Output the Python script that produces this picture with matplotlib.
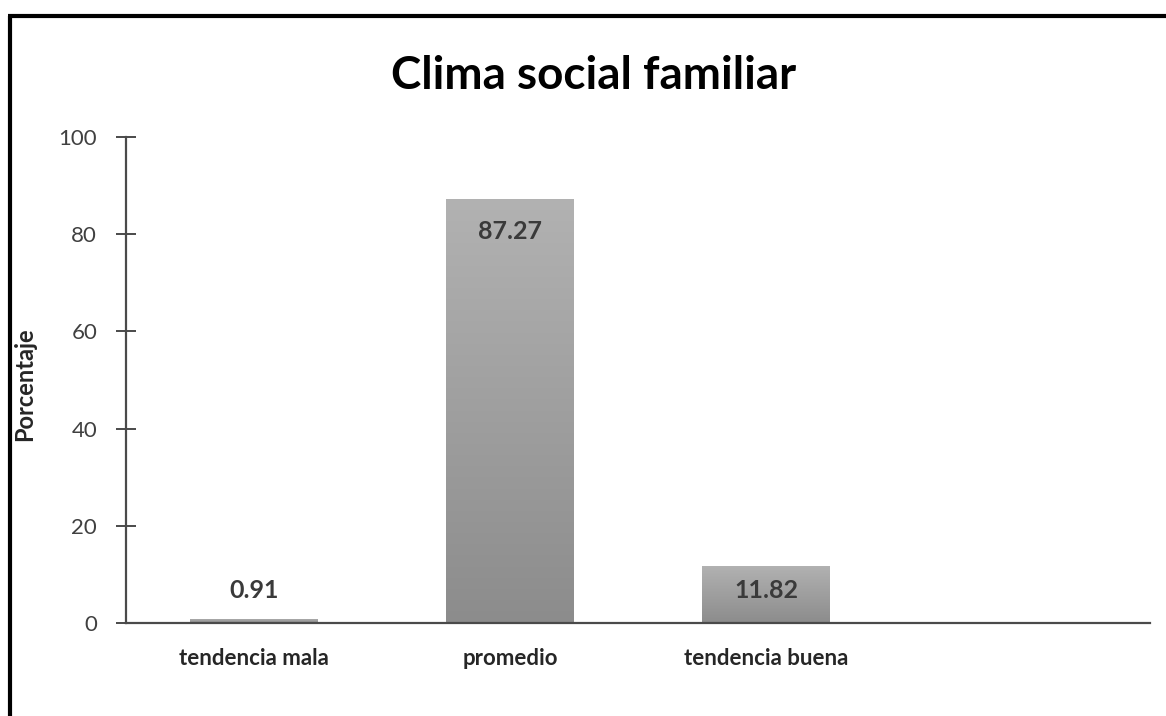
import numpy as np
import matplotlib
matplotlib.use("Agg")
import matplotlib.pyplot as plt
from matplotlib.lines import Line2D

# data
categories = ["tendencia mala", "promedio", "tendencia buena", ""]
values = [0.91, 87.27, 11.82]
value_labels = ["0.91", "87.27", "11.82"]
y_ticks = [0, 20, 40, 60, 80, 100]

plt.rcParams['font.family'] = ['Lato', 'DejaVu Sans']

W, H = 1166, 716
fig = plt.figure(figsize=(W / 100, H / 100), dpi=100)
ax = fig.add_axes([126 / W, 1 - 623 / H, (1150 - 126) / W, (623 - 137) / H])

x = np.arange(len(categories))
bars = ax.bar(x[:len(values)], values, width=0.5, color='none', zorder=2)

# vertical grey gradient inside each bar
grad = np.linspace(0, 1, 256).reshape(-1, 1)
cmap = matplotlib.colors.LinearSegmentedColormap.from_list('g', ['#8c8c8c', '#b2b2b2'])
for b in bars:
    x0, y0 = b.get_x(), b.get_y()
    im = ax.imshow(grad, cmap=cmap, origin='lower', aspect='auto',
                   extent=[x0, x0 + b.get_width(), y0, y0 + b.get_height()], zorder=2)
    im.set_clip_path(b)

# data labels: inside the top of tall bars, above the tiny one
for i, (v, lab) in enumerate(zip(values, value_labels)):
    if v > 5:
        off = -33 if v > 50 else -25
    else:
        off = 28
    ax.annotate(lab, (i, v), xytext=(0, off), textcoords='offset pixels',
                ha='center', va='center', fontsize=18, fontweight='bold', color='#3a3a3a')

ax.set_xlim(-0.5, len(categories) - 0.5)
ax.set_ylim(0, 100)
ax.set_yticks(y_ticks)
ax.set_xticks(x[:3])
ax.set_xticklabels(categories[:3], fontsize=16, fontweight='bold', color='#262626')

for s in ['top', 'right']:
    ax.spines[s].set_visible(False)
for s in ['left', 'bottom']:
    ax.spines[s].set_color('#4a4a4a')
    ax.spines[s].set_linewidth(1.6)

ax.tick_params(axis='y', direction='inout', length=14.4, width=1.4, color='#4a4a4a',
               pad=13.5, labelsize=16, labelcolor='#404040')
ax.tick_params(axis='x', length=0, pad=18)

ax.set_ylabel("Porcentaje", fontsize=17, fontweight='bold', color='#262626')
ax.yaxis.set_label_coords(36 / W, (716 - 384) / H, transform=fig.transFigure)

fig.text(594 / W, 1 - 76 / H, "Clima social familiar", ha='center', va='center',
         fontsize=33, fontweight='bold', color='black')

# black frame on top and left edges of the picture
fig.add_artist(Line2D([10 / W, 10 / W], [0, 1 - 16 / H], transform=fig.transFigure,
                      color='black', linewidth=3, solid_capstyle='butt'))
fig.add_artist(Line2D([8 / W, 1], [1 - 16 / H, 1 - 16 / H], transform=fig.transFigure,
                      color='black', linewidth=3, solid_capstyle='butt'))

fig.savefig("out.png", dpi=100)
